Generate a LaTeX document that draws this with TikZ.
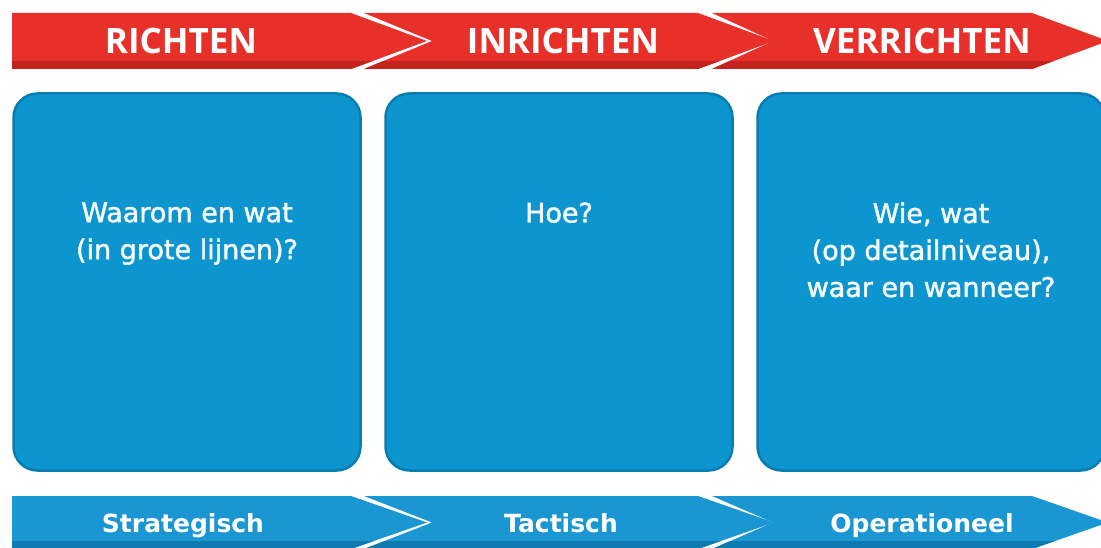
\documentclass[tikz,border=0pt]{standalone}
\usepackage{fontspec}
\setmainfont{DejaVu Sans}
\newfontfamily\headfont{Open Sans}
\newfontfamily\boxfont{DejaVu Sans}[FakeBold=1.6]
\usetikzlibrary{positioning}
\definecolor{barred}{HTML}{E8302A}
\definecolor{barreddark}{HTML}{C2231C}
\definecolor{boxblue}{HTML}{0D95CF}
\definecolor{boxbluedark}{HTML}{0A7DB0}
\definecolor{barblue}{HTML}{1A97D2}
\definecolor{barbluedark}{HTML}{0E7BB0}
\tikzset{
	chevron/.style n args = {5}{insert path = {(#1,#4) -- (#2,#4) -- ({#2+76},{(#4+#5)/2}) -- (#2,#5) -- (#1,#5) -- ({#1+#3},{(#4+#5)/2}) -- cycle}},
	phase/.style = {text = white, inner sep = 0pt, anchor = base, font = \headfont\bfseries\fontsize{35}{40}\selectfont},
	level/.style = {text = white, inner sep = 0pt, anchor = base, font = \bfseries\fontsize{25}{30}\selectfont},
	block/.style = {draw = boxbluedark, line width = 2.5pt, fill = boxblue, rounded corners = 24pt,
		minimum width = 347pt, minimum height = 377pt, inner sep = 0pt},
	question/.style = {text = white!96!boxblue, align = center, inner sep = 0pt, font = \boxfont\fontsize{27}{37}\selectfont}
}

\begin{document}
\begin{tikzpicture}[x = 1pt, y = -1pt]
	\useasboundingbox (0,0) rectangle (1101,548);

	% top bar: richten / inrichten / verrichten
	\foreach \xa/\xb/\nd/\tx/\name/\txt in {12/351/0/181/richten/RICHTEN, 364/698/68/563/inrichten/INRICHTEN, 712/1032/61/922/verrichten/VERRICHTEN} {
		\fill [barred, chevron = {\xa}{\xb}{\nd}{13}{69}];
		\begin{scope}
			\clip [chevron = {\xa}{\xb}{\nd}{13}{69}];
			\fill [barreddark] (\xa-1,61) rectangle (\xb+80,70);
		\end{scope}
		\node [phase] (\name) at (\tx,54) {\txt};
	}

	% bottom bar: strategisch / tactisch / operationeel
	\foreach \xa/\xb/\nd/\tx/\name/\txt in {12/351/0/183/strategisch/Strategisch, 364/698/68/561/tactisch/Tactisch, 712/1032/61/922/operationeel/Operationeel} {
		\fill [barblue, chevron = {\xa}{\xb}{\nd}{496}{549}];
		\begin{scope}
			\clip [chevron = {\xa}{\xb}{\nd}{496}{549}];
			\fill [barbluedark] (\xa-1,541) rectangle (\xb+80,550);
		\end{scope}
		\node [level] (\name) at (\tx,532) {\txt};
	}

	% blocks
	\node [block] (waarom) at (187,282) {};
	\node [block] (hoe) [right = 22.5pt of waarom] {};
	\node [block] (wie) [right = 22.5pt of hoe] {};

	\node [question, anchor = north] (waaromtext) at ([yshift = -110pt]waarom.north) {Waarom en wat\\(in grote lijnen)?};
	\node [question, anchor = north] (hoetext) at ([yshift = -110pt]hoe.north) {Hoe?};
	\node [question, anchor = north] (wietext) at ([yshift = -110pt]wie.north) {Wie, wat\\(op detailniveau),\\waar en wanneer?};
\end{tikzpicture}
\end{document}
